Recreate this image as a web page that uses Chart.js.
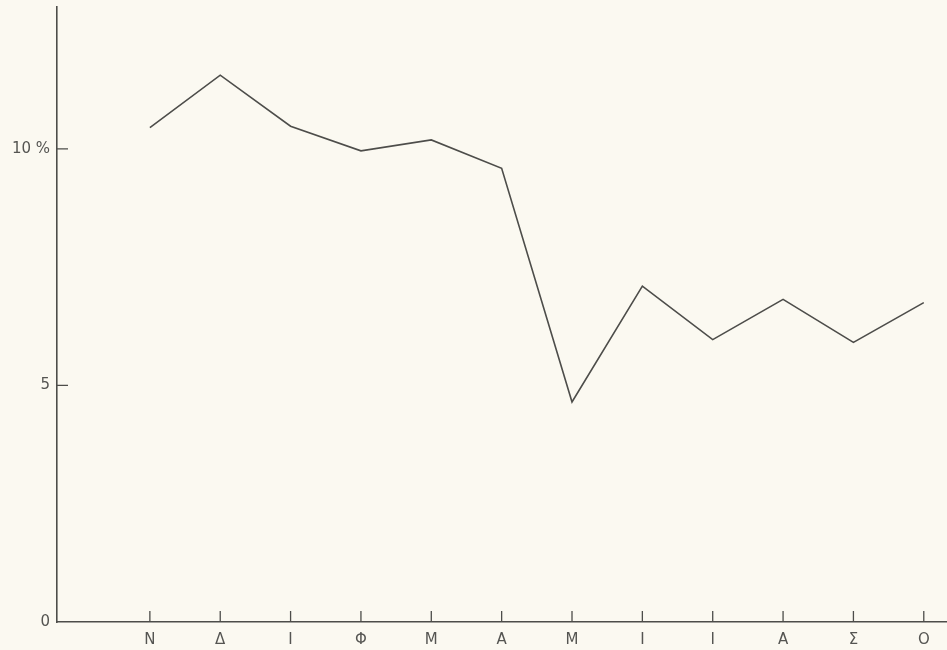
<!DOCTYPE html>
<html>
<head>
<meta charset="utf-8">
<script src="https://cdn.jsdelivr.net/npm/chart.js@4/dist/chart.umd.min.js"></script>
<style>
  html, body { margin: 0; padding: 0; background: #fbf9f1; }
  #wrap { width: 947px; height: 650px; }
</style>
</head>
<body>
<div id="wrap"><canvas id="c" width="947" height="650"></canvas></div>
<script>
// Months (Greek initials, Nov -> Oct)
const categories = ['N', 'Δ', 'Ι', 'Φ', 'Μ', 'Α', 'Μ', 'Ι', 'Ι', 'Α', 'Σ', 'Ο'];
// Percent values
const values = [10.45, 11.56, 10.48, 9.96, 10.19, 9.59, 4.65, 7.10, 5.97, 6.82, 5.91, 6.75];
// Y tick values and their labels
const yTickValues = [0, 5, 10];
const yTickLabels = ['0', '5', '10 %'];

const ink = '#4d4d4a';
const textInk = '#555552';

const points = values.map((v, i) => ({ x: i, y: v }));

const tickMarks = {
  id: 'tickMarks',
  afterDraw(chart) {
    const { ctx, scales: { x, y } } = chart;
    ctx.save();
    ctx.strokeStyle = ink;
    ctx.lineWidth = 1.3;
    ctx.beginPath();
    categories.forEach((_, i) => {
      const px = x.getPixelForValue(i);
      const py = y.getPixelForValue(0);
      ctx.moveTo(px, py);
      ctx.lineTo(px, py - 11);
    });
    yTickValues.forEach(v => {
      if (v === 0) return;
      const py = y.getPixelForValue(v);
      const px = x.left;
      ctx.moveTo(px, py);
      ctx.lineTo(px + 11, py);
    });
    ctx.stroke();
    ctx.restore();
  }
};

new Chart(document.getElementById('c'), {
  type: 'scatter',
  data: {
    datasets: [{
      data: points,
      showLine: true,
      borderColor: ink,
      borderWidth: 1.6,
      pointRadius: 0,
      tension: 0,
      fill: false
    }]
  },
  options: {
    responsive: false,
    animation: false,
    layout: { padding: { top: 7, right: 0, left: 0, bottom: 0 } },
    plugins: { legend: { display: false }, tooltip: { enabled: false } },
    scales: {
      x: {
        type: 'linear',
        min: -1.32,
        max: 11.33,
        afterBuildTicks: s => { s.ticks = categories.map((_, i) => ({ value: i })); },
        afterFit: s => { s.height = 28; s.paddingLeft = 0; s.paddingRight = 0; },
        grid: { display: false, drawTicks: false },
        border: { display: true, color: ink, width: 1.6 },
        ticks: {
          autoSkip: false,
          maxRotation: 0,
          padding: 9,
          color: textInk,
          font: { family: 'DejaVu Sans', size: 15 },
          callback: (v) => categories[v] ?? ''
        }
      },
      y: {
        min: 0,
        max: 13,
        afterBuildTicks: s => { s.ticks = yTickValues.map(v => ({ value: v })); },
        afterFit: s => { s.width = 57; s.paddingTop = 0; s.paddingBottom = 0; },
        grid: { display: false, drawTicks: false },
        border: { display: true, color: ink, width: 1.6 },
        ticks: {
          padding: 7,
          color: textInk,
          font: { family: 'DejaVu Sans', size: 15 },
          callback: (v) => yTickLabels[yTickValues.indexOf(v)] ?? ''
        }
      }
    }
  },
  plugins: [tickMarks]
});
</script>
</body>
</html>
